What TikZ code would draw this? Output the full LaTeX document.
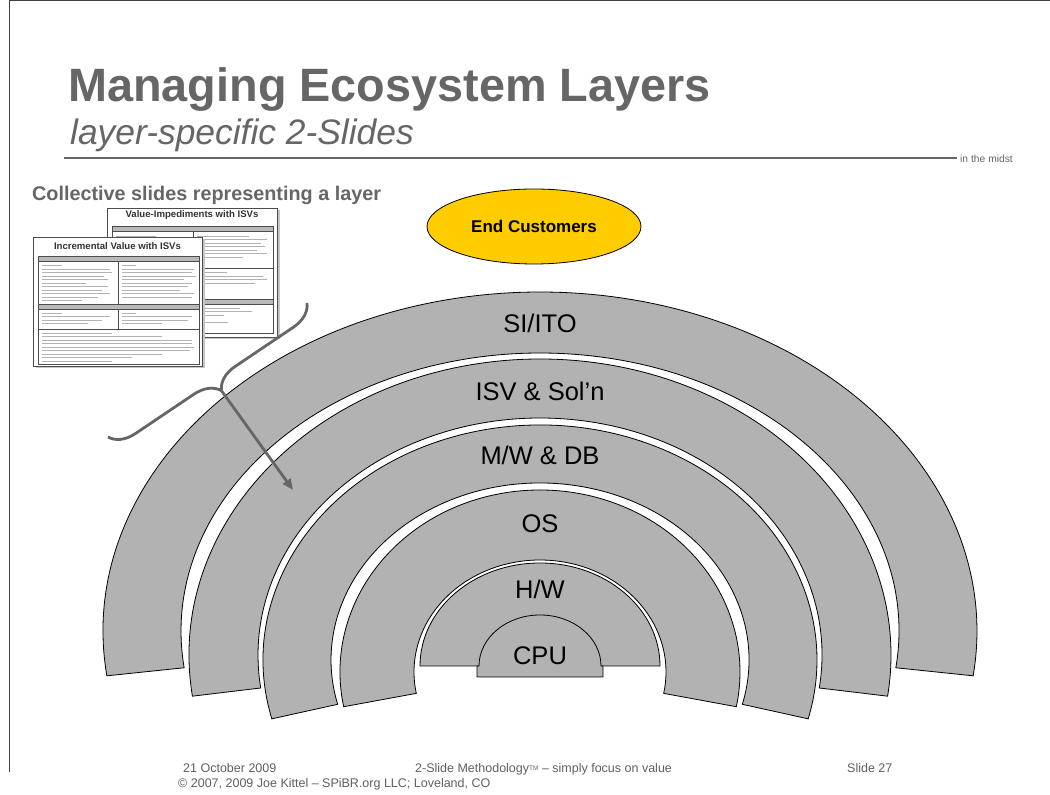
\documentclass[tikz,border=0pt]{standalone}
\usepackage{fontspec}
\setmainfont{Liberation Sans}
\usetikzlibrary{arrows.meta,decorations.pathreplacing,calc,shapes.geometric}
\definecolor{layerfill}{HTML}{B2B2B2}
\definecolor{headgray}{HTML}{666666}
\definecolor{footgray}{HTML}{606060}
\definecolor{custyellow}{HTML}{FFCC00}

% one arched layer: centre height, outer radii, inner radii, angle of the cut ends below the horizontal
\newcommand\ringlayer[6]{%
  \path[ringfill] (540,#1) ++(180+#6:#2 and #3)
    arc[start angle=180+#6, end angle=-#6, x radius=#2, y radius=#3]
    -- ($(540,#1)+(-#6:#4 and #5)$)
    arc[start angle=-#6, end angle=180+#6, x radius=#4, y radius=#5]
    -- cycle;}

\tikzset{
  ringfill/.style={fill=layerfill, draw=black, line width=0.8pt},
  layerlabel/.style={anchor=base, inner sep=0pt, font=\fontsize{25.5}{30}\selectfont},
  foot/.style={anchor=base west, inner sep=0pt, text=footgray, font=\fontsize{12.5}{15}\selectfont},
  thumb/.style={draw=gray!60!black, fill=white, line width=0.7pt},
  thumbtitle/.style={anchor=base, inner sep=0pt, text=black!80, font=\bfseries\fontsize{9.6}{11}\selectfont},
  tablerule/.style={draw=gray!60!black, line width=0.5pt},
  headbar/.style={fill=gray!55, draw=gray!60!black, line width=0.4pt},
  txt/.style={draw=gray!60, line width=0.9pt},
  bracestyle/.style={draw=headgray, line width=2.8pt},
}

\begin{document}
\begin{tikzpicture}[x=1pt,y=1pt]
\useasboundingbox (0,0) rectangle (1050,795);
\fill[white] (0,0) rectangle (1050,795);

% slide frame
\draw[black!75, line width=1pt] (9,23) -- (9,794) -- (1050,794);

% heading
\node[anchor=base west, inner sep=0pt, text=headgray, font=\bfseries\fontsize{46.8}{52}\selectfont] (title) at (68,693) {Managing Ecosystem Layers};
\node[anchor=base west, inner sep=0pt, text=headgray, font=\itshape\fontsize{35.4}{40}\selectfont] (subtitle) at (70,650) {layer-specific 2-Slides};
\draw[headgray, line width=2.5pt] (64,637) -- (957,637);
\node[anchor=base west, inner sep=0pt, text=headgray, font=\fontsize{10.3}{12}\selectfont] (midst) at (960,632) {in the midst};

\node[anchor=base west, inner sep=0pt, text=headgray, font=\bfseries\fontsize{19.8}{24}\selectfont] (collective) at (32,594) {Collective slides representing a layer};

% ---- back thumbnail slide ----
\fill[gray!45] (109.5,455.5) rectangle (279.5,584.5);
\draw[thumb] (107,458) rectangle (277,587);
\node[thumbtitle] (vimp) at (192,577.5) {Value-Impediments with ISVs};
\draw[tablerule] (112,462) rectangle (273,569);
\draw[headbar] (112,564) rectangle (273,569);
\draw[tablerule] (193,564) -- (193,527);
\foreach \yy/\ll in {559/52,555.5/70,552/64,548.5/68,545/60,541.5/70,538/46}
  {\draw[txt] (197,\yy) -- ++(\ll,0);}
\foreach \yy/\ll in {559/40,555.5/70,552/64,548.5/68,545/60,541.5/70,538/46}
  {\draw[txt] (116,\yy) -- ++(\ll,0);}
\draw[tablerule] (112,527) -- (273,527);
\draw[tablerule] (193,527) -- (193,496);
\foreach \yy/\ll in {522.5/30,519/66,515.5/70,512/58}
  {\draw[txt] (197,\yy) -- ++(\ll,0);}
\draw[headbar] (112,491) rectangle (273,496);
\foreach \yy/\ll in {487/44,483.5/56,480/28,473/32}
  {\draw[txt] (116,\yy) -- ++(\ll+80,0);}

% ---- front thumbnail slide ----
\fill[gray!45] (35.5,426.5) rectangle (204.5,555.5);
\draw[thumb] (33,429) rectangle (202,558);
\node[thumbtitle] (incr) at (117.5,545) {Incremental Value with ISVs};
\draw[tablerule] (38,431) rectangle (199,539);
\draw[headbar] (38,533.5) rectangle (199,538.5);
\draw[tablerule] (118,533.5) -- (118,491);
\foreach \yy/\ll in {529.5/20,526/68,522.5/70,519/62,515.5/66,512/44,508.5/66,505/60,501.5/68,498/56,494.5/40}
  {\draw[txt] (42,\yy) -- ++(\ll,0);}
\foreach \yy/\ll in {529.5/14,526/72,522.5/70,519/74,515.5/62,512/70,508.5/66,505/58,501.5/72,498/70}
  {\draw[txt] (122,\yy) -- ++(\ll,0);}
\draw[headbar] (38,486) rectangle (199,491);
\draw[tablerule] (118,486) -- (118,466);
\foreach \yy/\ll in {482/20,478.5/68,475/60,471.5/46}
  {\draw[txt] (42,\yy) -- ++(\ll,0);}
\foreach \yy/\ll in {482/14,478.5/70,475/66,471.5/40}
  {\draw[txt] (122,\yy) -- ++(\ll,0);}
\draw[tablerule] (38,466) -- (199,466);
\foreach \yy/\ll in {462/70,458.5/120,455/150,451.5/150,448/152,444.5/148,441/120,437.5/90,434/70}
  {\draw[txt] (42,\yy) -- ++(\ll,0);}

% ---- customer ellipse ----
\node[ellipse, draw=black, line width=0.8pt, fill=custyellow, minimum width=214pt, minimum height=75pt, inner sep=0pt,
      font=\bfseries\fontsize{17}{20}\selectfont] (cust) at (534,568.5) {End Customers};

% ---- ecosystem layers, outermost first ----
\ringlayer{164}{437}{339}{359}{278}{7.6}
\ringlayer{140}{351}{296}{282}{237}{8}
\ringlayer{135}{277}{235}{209}{177}{14.5}
\ringlayer{123}{200}{182}{126}{112}{11}
% hardware: half ellipse with a flat base
\path[ringfill] (420,129) arc[start angle=180, end angle=0, x radius=120, y radius=103] -- cycle;
% processor dome on its plinth
\path[ringfill] (477,118) -- (477,129) -- (479,129)
  arc[start angle=180, end angle=0, x radius=61, y radius=51]
  -- (603,129) -- (603,118) -- cycle;

\node[layerlabel] (siito) at (540,462) {SI/ITO};
\node[layerlabel] (isv) at (540,394) {ISV \& Sol’n};
\node[layerlabel] (mwdb) at (540,330) {M/W \& DB};
\node[layerlabel] (os) at (540,262) {OS};
\node[layerlabel] (hw) at (540,196) {H/W};
\node[layerlabel] (cpu) at (540,130) {CPU};

% ---- brace gathering the slides, pointing into a layer ----
\coordinate (bup) at (307,492);
\coordinate (blo) at (108,358);
\coordinate (bmid) at ($(bup)!0.5!(blo)$);
\coordinate (btip) at ($(bmid)!25pt!90:(blo)$);
\coordinate (atip) at (293,305);
\draw[bracestyle, decorate, decoration={brace, amplitude=25pt}] (bup) -- (blo);
\draw[bracestyle, -{Triangle[length=11pt,width=9pt]}] (btip) -- (atip);

% ---- footer ----
\node[foot] (date) at (183,22) {21 October 2009};
\node[foot] (meth) at (415,22) {2-Slide Methodology\raisebox{2.5pt}{\fontsize{6.5}{7}\selectfont TM} – simply focus on value};
\node[foot] (slideno) at (847,22) {Slide 27};
\node[foot] (copy) at (178,7) {© 2007, 2009 Joe Kittel – SPiBR.org LLC; Loveland, CO};
\end{tikzpicture}
\end{document}
